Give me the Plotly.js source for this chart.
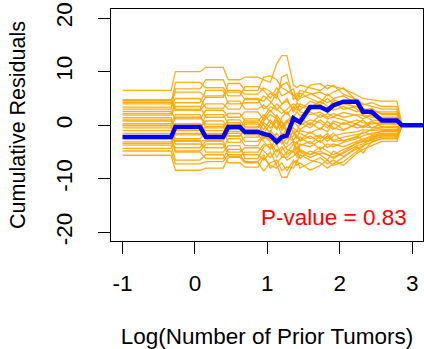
<!DOCTYPE html>
<html>
<head>
<meta charset="utf-8">
<script src="https://cdn.plot.ly/plotly-3.0.1.min.js"></script>
<style>html,body{margin:0;padding:0;background:#fff;}#chart{width:424px;height:349px;}</style>
</head>
<body>
<div id="chart"></div>
<script>
// Common x grid: Log(Number of Prior Tumors)
const xGrid = [-1.0, -0.33, -0.27, 0.07, 0.15, 0.39, 0.46, 0.62, 0.69, 0.87, 0.95, 1.04, 1.13, 1.20, 1.27, 1.36, 1.41, 1.45, 1.59, 1.73, 1.83, 1.91, 2.05, 2.24, 2.32, 2.44, 2.58, 2.79, 2.86, 3.2];

// Observed cumulative residuals (blue)
const observed = [-2.2, -2.2, -0.3, -0.3, -2.2, -2.2, -0.3, -0.3, -1.25, -1.25, -1.6, -1.9, -3.1, -2.2, -1.9, 1.3, 0.9, 0.6, 3.4, 3.4, 2.8, 3.7, 4.4, 4.4, 2.5, 2.5, 0.9, 0.9, 0, 0];

// Simulated realizations (orange)
const sim01 = [6.5, 6.5, 10, 10, 10.8, 10.8, 8.5, 8.5, 9, 9, 8.5, 8.0, 11.5, 13, 13, 7.5, 7.0, 7.5, 7.0, 6.5, 7.5, 7.2, 6.8, 5.6, 5.0, 4.8, 4.5, 4.5, 0, 0];
const sim02 = [4.6, 4.6, 6.2, 6.2, 5.2, 5.2, 7.8, 7.8, 6.5, 6.5, 9, 9.2, 8.5, 7.0, 6.5, 5.5, 6.0, 5.2, 7.5, 7.8, 6.8, 7.5, 5.8, 4.8, 4.0, 3.6, 3.0, 3.0, 0, 0];
const sim03 = [4.3, 4.3, 2.8, 2.8, 4.0, 4.0, 3.0, 3.0, 5.0, 5.0, 4.5, 6.0, 5.0, 9.0, 9.5, 4.8, 5.5, 6.5, 6.0, 5.0, 4.2, 4.8, 4.0, 3.5, 2.8, 3.2, 2.0, 2.0, 0, 0];
const sim04 = [3.4, 3.4, 5.0, 5.0, 3.2, 3.2, 4.5, 4.5, 3.0, 3.0, 3.8, 2.5, 4.0, 3.0, 2.0, 3.5, 2.8, 4.0, 3.2, 4.5, 3.5, 2.8, 3.5, 2.5, 3.0, 1.8, 1.5, 1.5, 0, 0];
const sim05 = [2.6, 2.6, 1.2, 1.2, 2.8, 2.8, 1.5, 1.5, 2.5, 2.5, 1.0, 2.8, 1.5, -1.0, 0.5, 1.5, 2.5, 1.8, 2.5, 1.5, 2.2, 1.6, 2.4, 1.8, 1.2, 2.0, 1.0, 1.0, 0, 0];
const sim06 = [1.9, 1.9, 3.5, 3.5, 1.5, 1.5, 2.2, 2.2, 0.8, 0.8, 2.0, 0.5, -0.8, 1.5, 2.5, 0.5, 1.2, 0.0, 1.0, 0.5, -0.5, 0.8, 0.2, 1.0, 0.5, 0.2, 0.5, 0.5, 0, 0];
const sim07 = [1.0, 1.0, -0.5, -0.5, 0.8, 0.8, -0.8, -0.8, 1.2, 1.2, 0.0, -1.5, 2.0, 0.5, -1.5, -0.5, -1.2, 0.5, -0.5, 1.0, 0.0, -0.8, 0.5, -0.5, -0.2, 0.8, -0.3, -0.3, 0, 0];
const sim08 = [0.3, 0.3, 2.0, 2.0, -0.5, -0.5, 1.0, 1.0, -0.3, -0.3, 1.5, 3.5, 2.8, 4.0, 5.0, 2.5, 3.5, 2.8, 4.5, 3.8, 5.0, 4.0, 4.5, 3.0, 2.0, 1.5, 1.2, 1.2, 0, 0];
const sim09 = [-0.1, -0.1, -1.8, -1.8, -0.2, -0.2, -2.0, -2.0, -0.8, -0.8, -2.5, -1.0, -2.2, -3.5, -2.5, -2.0, -0.8, -1.5, -2.5, -1.8, -3.0, -2.0, -1.5, -1.2, -0.8, -1.0, -0.8, -0.8, 0, 0];
const sim10 = [-0.5, -0.5, 1.5, 1.5, 0.2, 0.2, -1.2, -1.2, 0.5, 0.5, -0.8, 1.0, -0.5, 0.8, -1.0, 0.8, 0.0, -0.8, 0.5, -0.8, 0.8, -0.5, -1.0, 0.5, 1.0, -0.5, 0.3, 0.3, 0, 0];
const sim11 = [-1.0, -1.0, -2.5, -2.5, -1.5, -1.5, 0.5, 0.5, -1.8, -1.8, -3.0, -4.5, -3.5, -6.0, -5.0, -3.5, -4.5, -3.8, -3.0, -4.5, -3.5, -4.0, -3.2, -2.5, -2.0, -1.5, -1.2, -1.2, 0, 0];
const sim12 = [-1.5, -1.5, -3.5, -3.5, -4.2, -4.2, -2.5, -2.5, -3.8, -3.8, -2.0, -3.2, -5.0, -4.0, -5.5, -4.5, -3.0, -4.8, -5.5, -4.0, -4.8, -5.5, -4.5, -3.5, -3.0, -2.8, -2.0, -2.0, 0, 0];
const sim13 = [-2.0, -2.0, 0.3, 0.3, -1.0, -1.0, -3.2, -3.2, -2.2, -2.2, -1.2, -2.5, -1.5, -2.8, -3.5, -1.0, -2.2, -2.8, -1.2, -2.5, -1.5, -2.8, -2.2, -1.8, -1.5, -0.8, -0.5, -0.5, 0, 0];
const sim14 = [-2.5, -2.5, -5.0, -5.0, -6.2, -6.2, -4.5, -4.5, -5.5, -5.5, -6.5, -5.0, -7.5, -9.7, -9.7, -7.0, -6.5, -8.0, -7.0, -6.0, -7.2, -6.5, -7.5, -5.2, -4.5, -3.8, -3.0, -3.0, 0, 0];
const sim15 = [-3.1, -3.1, -4.2, -4.2, -3.0, -3.0, -5.0, -5.0, -4.2, -4.2, -4.8, -6.0, -4.5, -5.2, -6.5, -5.8, -5.0, -6.2, -4.8, -5.5, -6.5, -4.8, -5.8, -4.5, -3.8, -3.2, -2.5, -2.5, 0, 0];
const sim16 = [-3.7, -3.7, -6.5, -6.5, -5.5, -5.5, -7.0, -7.0, -7.8, -7.8, -6.0, -7.5, -8.0, -7.0, -8.5, -6.5, -7.5, -7.0, -8.4, -7.5, -6.5, -7.5, -6.8, -4.8, -4.0, -2.2, -1.8, -1.8, 0, 0];
const sim17 = [-4.3, -4.3, -2.8, -2.8, -5.0, -5.0, -3.8, -3.8, -6.2, -6.2, -4.0, -3.5, -6.0, -4.5, -4.0, -3.0, -5.5, -3.5, -4.0, -2.8, -4.2, -3.5, -4.0, -3.0, -2.5, -2.0, -1.5, -1.5, 0, 0];
const sim18 = [-5.6, -5.6, -8.4, -8.4, -8.0, -8.0, -6.0, -6.0, -7.0, -7.0, -8.5, -7.0, -6.5, -8.5, -7.8, -8.0, -6.8, -5.5, -6.5, -7.0, -8.0, -7.2, -6.0, -4.0, -5.2, -3.0, -2.5, -2.5, 0, 0];
const sim19 = [4.0, 4.0, 8.0, 8.0, 7.0, 7.0, 5.5, 5.5, 7.2, 7.2, 6.5, 5.0, 7.0, 5.5, 6.0, 6.8, 4.5, 5.0, 5.8, 6.2, 5.5, 6.2, 7.0, 4.5, 3.8, 4.2, 3.5, 3.5, 0, 0];
const sim20 = [1.4, 1.4, -1.0, -1.0, 2.0, 2.0, 0.2, 0.2, -1.5, -1.5, 0.5, -0.5, 0.8, -2.0, -0.5, -2.8, -1.8, -3.0, -2.0, -3.2, -2.0, -3.0, -2.8, -2.2, -1.2, -1.8, -1.0, -1.0, 0, 0];
const sim21 = [-3.4, -3.4, -1.5, -1.5, -2.5, -2.5, -1.5, -1.5, -3.0, -3.0, -1.8, -2.8, -3.0, -1.5, -2.0, -3.0, -3.5, -2.2, -3.5, -2.0, -2.5, -1.5, -3.0, -2.0, -2.8, -2.2, -1.8, -1.8, 0, 0];
const sim22 = [2.2, 2.2, 4.2, 4.2, 6.5, 6.5, 4.0, 4.0, 4.2, 4.2, 5.5, 4.5, 3.0, 2.2, 3.0, 4.0, 3.5, 2.5, 2.0, 2.5, 1.5, 2.2, 1.5, 2.0, 1.8, 1.0, 0.8, 0.8, 0, 0];
const sim23 = [4.8, 4.8, 3.0, 3.0, 5.5, 5.5, 6.5, 6.5, 5.8, 5.8, 7.0, 6.2, 5.5, 4.0, 4.5, 3.0, 4.2, 3.5, 3.0, 3.8, 3.0, 4.5, 3.0, 3.5, 2.5, 2.8, 2.2, 2.2, 0, 0];
const sim24 = [0.0, 0.0, -3.0, -3.0, -2.8, -2.8, -0.5, -0.5, 0.2, 0.2, -1.5, 0.2, 1.0, -0.5, 1.0, -1.5, -2.5, -1.0, -1.5, -0.5, -1.2, 0.5, -0.8, 0.2, -0.5, 0.5, 0.2, 0.2, 0, 0];
const sim25 = [-2.3, -2.3, -4.8, -4.8, -3.5, -3.5, -5.8, -5.8, -5.0, -5.0, -3.5, -4.2, -2.5, -3.0, -4.5, -5.0, -4.0, -5.0, -6.0, -5.2, -5.5, -6.2, -5.2, -3.8, -3.5, -2.5, -2.2, -2.2, 0, 0];
const sim26 = [3.0, 3.0, 6.8, 6.8, 8.5, 8.5, 6.2, 6.2, 4.8, 4.8, 3.0, 4.0, 6.0, 7.5, 8.0, 5.5, 4.8, 6.0, 5.0, 4.2, 5.8, 5.0, 5.5, 3.8, 3.2, 2.5, 2.5, 2.5, 0, 0];
const sim27 = [-4.8, -4.8, -7.2, -7.2, -6.8, -6.8, -5.5, -5.5, -6.8, -6.8, -5.5, -8.0, -7.0, -6.0, -6.0, -4.8, -6.0, -4.5, -5.5, -4.8, -5.5, -6.0, -5.0, -3.2, -3.0, -2.8, -1.0, -1.0, 0, 0];
const sim28 = [0.8, 0.8, 0.0, 0.0, -1.8, -1.8, -2.0, -2.0, -0.5, -0.5, 0.8, 2.0, 1.2, -0.2, 0.8, 1.8, 0.5, 1.5, 0.0, 2.0, 1.2, 1.5, 1.0, 0.2, -0.2, -0.5, -0.3, -0.3, 0, 0];

const simulated = [sim01, sim02, sim03, sim04, sim05, sim06, sim07, sim08, sim09, sim10, sim11, sim12, sim13, sim14, sim15, sim16, sim17, sim18, sim19, sim20, sim21, sim22, sim23, sim24, sim25, sim26, sim27, sim28];

const xTicks = [-1, 0, 1, 2, 3];
const yTicks = [-20, -10, 0, 10, 20];
const pText = "P-value = 0.83";

const traces = simulated.map(s => ({
  x: xGrid, y: s, type: 'scatter', mode: 'lines',
  line: {color: 'rgba(255,165,0,0.9)', width: 1.3},
  hoverinfo: 'skip', showlegend: false
}));
traces.push({
  x: xGrid, y: observed, type: 'scatter', mode: 'lines',
  line: {color: '#0000FF', width: 4.5},
  showlegend: false
});

const fontFam = 'Liberation Sans, Arial, Helvetica, sans-serif';
const fs = 22.5;
const layout = {
  width: 424, height: 349,
  margin: {l: 111, r: 1, t: 9, b: 108},
  paper_bgcolor: '#fff', plot_bgcolor: '#fff',
  showlegend: false,
  font: {family: fontFam, size: fs, color: '#000'},
  xaxis: {
    range: [-1.16, 3.15], tickvals: xTicks, ticktext: xTicks.map(String),
    showgrid: false, zeroline: false,
    showline: true, mirror: true, linecolor: '#000', linewidth: 1,
    ticks: 'outside', ticklen: 12, tickwidth: 1, tickcolor: '#000',
    ticklabelstandoff: 10,
    tickfont: {family: fontFam, size: fs, color: '#000'},
    title: {text: 'Log(Number of Prior Tumors)', font: {family: fontFam, size: fs, color: '#000'}, standoff: 34}
  },
  yaxis: {
    range: [-21.6, 21.7], tickvals: yTicks, ticktext: yTicks.map(String),
    showgrid: false, zeroline: false,
    showline: true, mirror: true, linecolor: '#000', linewidth: 1,
    ticks: 'outside', ticklen: 12, tickwidth: 1, tickcolor: '#000',
    tickangle: -90, ticklabelstandoff: 17,
    tickfont: {family: fontFam, size: fs, color: '#000'},
    title: {text: 'Cumulative Residuals', font: {family: fontFam, size: 21.5, color: '#000'}, standoff: 20}
  },
  annotations: [{
    x: 1.915, y: -17.2, xref: 'x', yref: 'y', text: pText, showarrow: false,
    font: {family: fontFam, size: fs, color: '#FF0000'}
  }]
};

Plotly.newPlot('chart', traces, layout, {staticPlot: true, displayModeBar: false});
</script>
</body>
</html>
